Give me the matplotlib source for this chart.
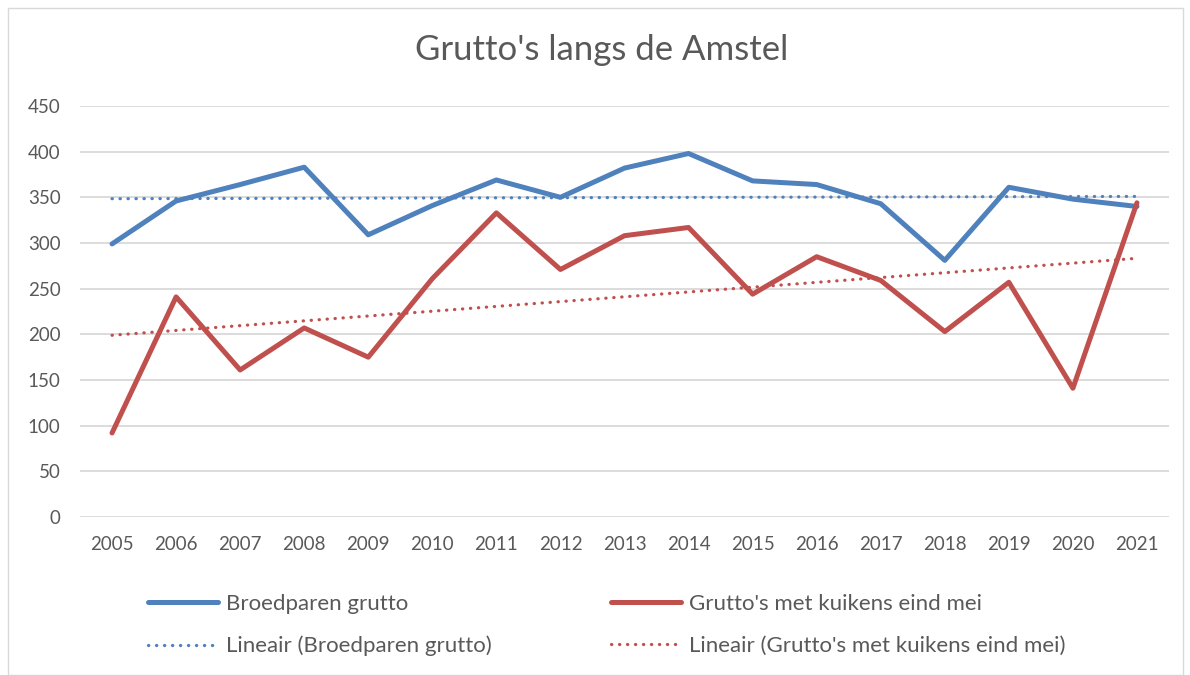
import numpy as np
import matplotlib
matplotlib.use("Agg")
import matplotlib.pyplot as plt
from matplotlib.lines import Line2D
from matplotlib.patches import Rectangle

years = [2005, 2006, 2007, 2008, 2009, 2010, 2011, 2012, 2013, 2014, 2015, 2016, 2017, 2018, 2019, 2020, 2021]
broedparen = [299, 346, 364, 383, 309, 341, 369, 350, 382, 398, 368, 364, 343, 281, 361, 348, 340]
kuikens = [92, 241, 161, 207, 175, 261, 333, 271, 308, 317, 244, 285, 259, 203, 257, 141, 344]
yticks = [0, 50, 100, 150, 200, 250, 300, 350, 400, 450]

title = "Grutto's langs de Amstel"
lab_b = "Broedparen grutto"
lab_k = "Grutto's met kuikens eind mei"
lab_tb = "Lineair (Broedparen grutto)"
lab_tk = "Lineair (Grutto's met kuikens eind mei)"

BLUE = "#4F81BD"
RED = "#C0504D"
TXT = "#595959"
GRID = "#D9D9D9"

plt.rcParams['font.family'] = ['Lato', 'DejaVu Sans']

fig = plt.figure(figsize=(11.9, 6.75), dpi=100)
ax = fig.add_axes([80/1190, 1 - 517/675, (1169-80)/1190, (517-106)/675])

x = np.array(years, dtype=float)
yb = np.array(broedparen, dtype=float)
yk = np.array(kuikens, dtype=float)

# trendlines via least squares
cb = np.polyfit(x, yb, 1)
ck = np.polyfit(x, yk, 1)

dot = (0, (0.1, 2.4))
TLW = 2.3
ax.plot(x, np.polyval(cb, x), color=BLUE, lw=TLW, linestyle=dot, dash_capstyle='round', zorder=2)
ax.plot(x, np.polyval(ck, x), color=RED, lw=TLW, linestyle=dot, dash_capstyle='round', zorder=2)
ax.plot(x, yb, color=BLUE, lw=3.6, solid_capstyle='round', solid_joinstyle='round', zorder=3)
ax.plot(x, yk, color=RED, lw=3.6, solid_capstyle='round', solid_joinstyle='round', zorder=4)

ax.set_xlim(years[0] - 0.5, years[-1] + 0.5)
ax.set_ylim(0, 450)
ax.set_yticks(yticks)
ax.set_xticks(years)
ax.set_xticklabels([str(y) for y in years])
ax.yaxis.grid(True, color=GRID, lw=1.3)
ax.set_axisbelow(True)
for s in ax.spines.values():
    s.set_visible(False)
ax.tick_params(axis='both', length=0, labelsize=13.5, colors=TXT)
ax.tick_params(axis='y', pad=14)
ax.tick_params(axis='x', pad=14)

fig.text(602/1190, 1 - 50/675, title, ha='center', va='center', fontsize=25, color=TXT)

# legend
fs = 16
h1 = [Line2D([], [], color=BLUE, lw=3.6, solid_capstyle='round'),
      Line2D([], [], color=BLUE, lw=TLW, linestyle=dot, dash_capstyle='round')]
h2 = [Line2D([], [], color=RED, lw=3.6, solid_capstyle='round'),
      Line2D([], [], color=RED, lw=TLW, linestyle=dot, dash_capstyle='round')]
common = dict(loc='center left', frameon=False, fontsize=fs, handlelength=3.15,
              handletextpad=0.36, labelspacing=1.0, labelcolor=TXT, borderpad=0, borderaxespad=0)
leg1 = fig.legend(h1, [lab_b, lab_tb], bbox_to_anchor=(148/1190, 1 - 625/675), **common)
leg2 = fig.legend(h2, [lab_k, lab_tk], bbox_to_anchor=(611/1190, 1 - 625/675), **common)

fig.patches.append(Rectangle((8/1190, 0), 1175/1190, 1 - 8/675, transform=fig.transFigure,
                             fill=False, edgecolor=GRID, lw=1))

fig.savefig("out.png", dpi=100)
